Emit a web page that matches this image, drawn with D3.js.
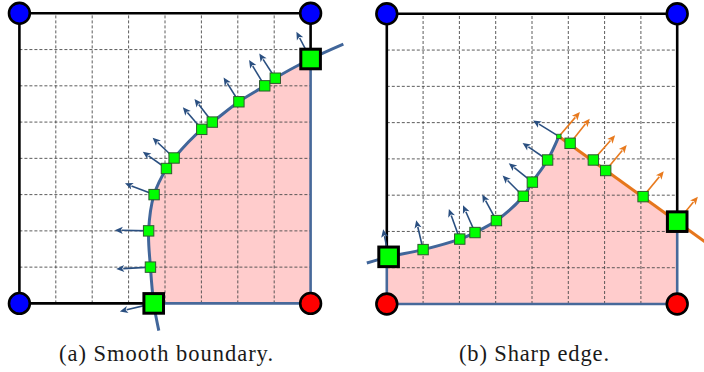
<!DOCTYPE html>
<html>
<head>
<meta charset="utf-8">
<script src="https://cdn.jsdelivr.net/npm/d3@7"></script>
<style>
  html, body { margin: 0; padding: 0; background: #fff; }
  svg { display: block; }
</style>
</head>
<body>
<svg id="fig" width="704" height="372"></svg>
<script>
// ---- data (grid units, 8 x 8 cells, y pointing up) ----
const gridLines = d3.range(1, 8);

// (a) smooth boundary: nodes where the curve meets grid lines / box edges
const smoothNodes = [[3.69,0],[3.60,1],[3.55,2],[3.70,3],[4.04,3.72],[4.25,4.01],
                     [5.01,4.80],[5.30,5.00],[6.03,5.56],[6.74,6.00],[7.03,6.21],[8.00,6.74]];
const smoothNormals = [[-0.93,-0.22],[-0.94,-0.05],[-0.93,0.02],[-0.80,0.31],[-0.65,0.46],[-0.59,0.56],
                       [-0.52,0.61],[-0.49,0.64],[-0.42,0.67],[-0.43,0.71],[-0.44,0.68],[-0.39,0.75]];
const smoothTails = [[3.83,-0.75],[8.90,7.15]];
const cornersA = [[0,8,"out"],[8,8,"out"],[0,0,"out"],[8,0,"in"]];

// (b) sharp edge: curved part, the kink, and the straight part
const sharpCurveNodes = [[0.05,1.30],[1.00,1.50],[2.01,1.79],[2.43,1.97],[3.02,2.30],
                         [3.76,2.97],[4.01,3.36],[4.43,3.97]];
const sharpCurveNormals = [[-0.15,0.76],[-0.19,0.81],[-0.30,0.83],[-0.33,0.75],[-0.39,0.72],
                           [-0.57,0.57],[-0.65,0.52],[-0.69,0.47]];
const kink = [4.74,4.62];
const kinkNormals = [[-0.71,0.44],[0.58,0.67]];
const straightNodes = [[5.05,4.43],[5.69,3.97],[6.03,3.68],[7.06,2.96],[8.00,2.27]];
const straightNormals = [[0.54,0.68],[0.60,0.68],[0.58,0.70],[0.57,0.70],[0.57,0.69]];
const sharpTails = [[-0.55,1.13],[8.80,1.69]];
const cornersB = [[0,8,"out"],[8,8,"out"],[0,0,"in"],[8,0,"in"]];

const captions = ["(a) Smooth boundary.", "(b) Sharp edge."];

// ---- styles ----
const C = {
  fill: "#ffcccc", grid: "#4a4a4a", box: "#000", edge: "#47699a",
  curve: "#41669a", arrow: "#2a4f80", orange: "#e6761c", orangeArrow: "#e87a1e",
  green: "#00ff00", out: "#0000ff", in: "#ff0000"
};

const svg = d3.select("#fig");

function makePanel(xr, yr) {
  const x = d3.scaleLinear().domain([0, 8]).range(xr);
  const y = d3.scaleLinear().domain([0, 8]).range(yr);
  const g = svg.append("g");
  const id = "clip" + Math.round(xr[0]);
  svg.append("clipPath").attr("id", id).append("rect")
    .attr("x", x(0)).attr("y", y(8)).attr("width", x(8) - x(0)).attr("height", y(0) - y(8));
  return { x, y, g, clip: `url(#${id})` };
}

function drawGrid(P) {
  const { x, y, g } = P;
  g.append("g").selectAll("line.v").data(gridLines).join("line")
    .attr("x1", d => x(d)).attr("x2", d => x(d)).attr("y1", y(0)).attr("y2", y(8))
    .attr("stroke", C.grid).attr("stroke-width", 0.9).attr("stroke-dasharray", "3,2");
  g.append("g").selectAll("line.h").data(gridLines).join("line")
    .attr("y1", d => y(d)).attr("y2", d => y(d)).attr("x1", x(0)).attr("x2", x(8))
    .attr("stroke", C.grid).attr("stroke-width", 0.9).attr("stroke-dasharray", "3,2");
}

function seg(P, a, b, color, w) {
  P.g.append("line")
    .attr("x1", P.x(a[0])).attr("y1", P.y(a[1])).attr("x2", P.x(b[0])).attr("y2", P.y(b[1]))
    .attr("stroke", color).attr("stroke-width", w).attr("stroke-linecap", "square");
}

function drawArrows(P, nodes, normals, color) {
  const { x, y, g } = P;
  const grp = g.append("g");
  nodes.forEach((n, i) => {
    const x1 = x(n[0]), y1 = y(n[1]);
    const x2 = x(n[0] + normals[i][0]), y2 = y(n[1] + normals[i][1]);
    const dx = x2 - x1, dy = y2 - y1, L = Math.hypot(dx, dy);
    const ux = dx / L, uy = dy / L, head = 8, half = 3.6;
    const bx = x2 - ux * head, by = y2 - uy * head;
    grp.append("line").attr("x1", x1).attr("y1", y1).attr("x2", bx + ux).attr("y2", by + uy)
      .attr("stroke", color).attr("stroke-width", 1.6);
    grp.append("path")
      .attr("d", `M${x2},${y2}L${bx - uy * half},${by + ux * half}L${bx + ux * 2},${by + uy * 2}L${bx + uy * half},${by - ux * half}Z`)
      .attr("fill", color);
  });
}

function drawSquares(P, nodes, big) {
  const { x, y, g } = P;
  g.append("g").selectAll("rect").data(nodes).join("rect")
    .attr("x", d => x(d[0]) - (big ? 9.8 : 5.2))
    .attr("y", d => y(d[1]) - (big ? 9.8 : 5.2))
    .attr("width", big ? 19.6 : 10.4).attr("height", big ? 19.6 : 10.4)
    .attr("fill", C.green)
    .attr("stroke", big ? "#000" : "#2f5a2f")
    .attr("stroke-width", big ? 3 : 1);
}

function drawCorners(P, corners) {
  const { x, y, g } = P;
  g.append("g").selectAll("circle").data(corners).join("circle")
    .attr("cx", d => x(d[0])).attr("cy", d => y(d[1])).attr("r", 10.4)
    .attr("fill", d => C[d[2]]).attr("stroke", "#000").attr("stroke-width", 2.6);
}

function caption(cx, text, width) {
  svg.append("text").attr("x", cx).attr("y", 361)
    .attr("text-anchor", "middle").attr("font-family", "'Liberation Serif', serif")
    .attr("font-size", 22.5).attr("fill", "#1a1a1a")
    .attr("textLength", width).attr("lengthAdjust", "spacing").text(text);
}

const curveLine = (P) => d3.line().x(d => P.x(d[0])).y(d => P.y(d[1])).curve(d3.curveCatmullRom.alpha(0.5));

// ---------------- panel (a) ----------------
{
  const P = makePanel([19.4, 310.6], [303.4, 13.3]);
  const full = [smoothTails[0], ...smoothNodes, smoothTails[1]];
  const line = curveLine(P);
  // inside region: right of the curve, clipped to the box
  P.g.append("path")
    .attr("d", line(full) + `L${P.x(9)},${P.y(8)}L${P.x(9)},${P.y(-1)}L${P.x(3.83)},${P.y(-1)}Z`)
    .attr("fill", C.fill).attr("clip-path", P.clip);
  drawGrid(P);
  const first = smoothNodes[0], last = smoothNodes[smoothNodes.length - 1];
  seg(P, [0, 8], [8, 8], C.box, 2.6);
  seg(P, [0, 0], [0, 8], C.box, 2.6);
  seg(P, [0, 0], first, C.box, 2.6);
  seg(P, [8, 8], last, C.box, 2.6);
  seg(P, first, [8, 0], C.edge, 2.6);
  seg(P, last, [8, 0], C.edge, 2.6);
  P.g.append("path").attr("d", line(full)).attr("fill", "none")
    .attr("stroke", C.curve).attr("stroke-width", 3);
  drawArrows(P, smoothNodes, smoothNormals, C.arrow);
  drawSquares(P, smoothNodes.slice(1, -1), false);
  drawSquares(P, [first, last], true);
  drawCorners(P, cornersA);
  caption((P.x(0) + P.x(8)) / 2 + 1, captions[0], 214);
}

// ---------------- panel (b) ----------------
{
  const P = makePanel([386.8, 677.2], [304.0, 13.8]);
  const curved = [sharpTails[0], ...sharpCurveNodes, kink];
  const line = curveLine(P);
  const straightEnd = sharpTails[1];
  P.g.append("path")
    .attr("d", line(curved) + `L${P.x(straightEnd[0])},${P.y(straightEnd[1])}` +
      `L${P.x(straightEnd[0])},${P.y(-1)}L${P.x(-1)},${P.y(-1)}L${P.x(-1)},${P.y(sharpTails[0][1])}Z`)
    .attr("fill", C.fill).attr("clip-path", P.clip);
  drawGrid(P);
  const left = sharpCurveNodes[0], right = straightNodes[straightNodes.length - 1];
  seg(P, [0, 8], [8, 8], C.box, 2.6);
  seg(P, [0, 8], [0, left[1]], C.box, 2.6);
  seg(P, [8, 8], [8, right[1]], C.box, 2.6);
  seg(P, [0, left[1]], [0, 0], C.edge, 2.6);
  seg(P, [0, 0], [8, 0], C.edge, 2.6);
  seg(P, [8, right[1]], [8, 0], C.edge, 2.6);
  P.g.append("path").attr("d", line(curved)).attr("fill", "none")
    .attr("stroke", C.curve).attr("stroke-width", 3);
  P.g.append("line")
    .attr("x1", P.x(kink[0])).attr("y1", P.y(kink[1]))
    .attr("x2", P.x(straightEnd[0])).attr("y2", P.y(straightEnd[1]))
    .attr("stroke", C.orange).attr("stroke-width", 3);
  drawArrows(P, [...sharpCurveNodes, kink], [...sharpCurveNormals, kinkNormals[0]], C.arrow);
  drawArrows(P, [kink, ...straightNodes], [kinkNormals[1], ...straightNormals], C.orangeArrow);
  drawSquares(P, sharpCurveNodes.slice(1), false);
  drawSquares(P, straightNodes.slice(0, -1), false);
  drawSquares(P, [left, right], true);
  P.g.append("rect").attr("x", P.x(kink[0]) - 2.2).attr("y", P.y(kink[1]) - 2.2)
    .attr("width", 4.4).attr("height", 4.4).attr("fill", C.green)
    .attr("stroke", "#2f5a2f").attr("stroke-width", 0.8);
  drawCorners(P, cornersB);
  caption((P.x(0) + P.x(8)) / 2 + 2, captions[1], 150);
}
</script>
</body>
</html>
